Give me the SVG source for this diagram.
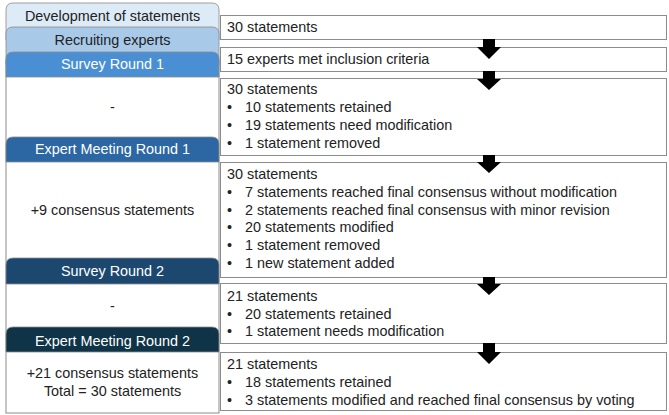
<svg xmlns="http://www.w3.org/2000/svg" width="669" height="415" viewBox="0 0 669 415">
<style>
text{font-family:"Liberation Sans",Arial,sans-serif;font-size:14.4px;fill:#222}
.c{text-anchor:middle}
.w{fill:#ffffff}
.box{fill:#ffffff;stroke:#8c8c8c;stroke-width:1}
.tab{stroke:#8c8c8c;stroke-width:0.8}
.arrow{fill:#000000}
</style>
<g id="left-frame">
<rect x="6" y="60" width="213" height="353" class="box"/>
</g>
<g id="tab-development">
<path class="tab" fill="#ddebf7" d="M6 40 V10 Q6 3 13 3 H212 Q219 3 219 10 V40 Z"/>
<text class="c" x="112.5" y="21">Development of statements</text>
</g>
<g id="tab-recruiting">
<path class="tab" fill="#a8c9e8" d="M6 65 V34 Q6 27 13 27 H212 Q219 27 219 34 V65 Z"/>
<text class="c" x="112.5" y="45">Recruiting experts</text>
</g>
<g id="tab-survey1">
<path class="tab" fill="#4a8fd4" d="M6 77 V59 Q6 52 13 52 H212 Q219 52 219 59 V77 Z"/>
<text class="c w" x="112.5" y="69">Survey Round 1</text>
</g>
<g id="left-survey1">
<text class="c" x="112.5" y="112">-</text>
</g>
<g id="tab-meeting1">
<path class="tab" fill="#2c67a3" d="M6 162 V144 Q6 137 13 137 H212 Q219 137 219 144 V162 Z"/>
<text class="c w" x="112.5" y="154">Expert Meeting Round 1</text>
</g>
<g id="left-meeting1">
<text class="c" x="112.5" y="215">+9 consensus statements</text>
</g>
<g id="tab-survey2">
<path class="tab" fill="#1c4870" d="M6 284 V265 Q6 258 13 258 H212 Q219 258 219 265 V284 Z"/>
<text class="c w" x="112.5" y="276">Survey Round 2</text>
</g>
<g id="left-survey2">
<text class="c" x="112.5" y="311">-</text>
</g>
<g id="tab-meeting2">
<path class="tab" fill="#0f3448" d="M6 352 V334 Q6 327 13 327 H212 Q219 327 219 334 V352 Z"/>
<text class="c w" x="112.5" y="346">Expert Meeting Round 2</text>
</g>
<g id="left-meeting2">
<text class="c" x="112.5" y="378">+21 consensus statements</text>
<text class="c" x="112.5" y="396">Total = 30 statements</text>
</g>

<g id="box1">
<rect class="box" x="220.5" y="15.5" width="446" height="24"/>
<text x="227" y="32">30 statements</text>
</g>
<g id="box2">
<rect class="box" x="220.5" y="47.5" width="446" height="24"/>
<text x="227" y="64">15 experts met inclusion criteria</text>
</g>
<g id="box3">
<rect class="box" x="220.5" y="78.5" width="446" height="77"/>
<text x="227" y="94">30 statements</text>
<text x="227" y="112">•</text><text x="245" y="112">10 statements retained</text>
<text x="227" y="130">•</text><text x="245" y="130">19 statements need modification</text>
<text x="227" y="148">•</text><text x="245" y="148">1 statement removed</text>
</g>
<g id="box4">
<rect class="box" x="220.5" y="162.5" width="446" height="115"/>
<text x="227" y="179">30 statements</text>
<text x="227" y="197">•</text><text x="245" y="197">7 statements reached final consensus without modification</text>
<text x="227" y="215">•</text><text x="245" y="215">2 statements reached final consensus with minor revision</text>
<text x="227" y="232">•</text><text x="245" y="232">20 statements modified</text>
<text x="227" y="250">•</text><text x="245" y="250">1 statement removed</text>
<text x="227" y="268">•</text><text x="245" y="268">1 new statement added</text>
</g>
<g id="box5">
<rect class="box" x="220.5" y="283.5" width="446" height="60"/>
<text x="227" y="301">21 statements</text>
<text x="227" y="319">•</text><text x="245" y="319">20 statements retained</text>
<text x="227" y="336">•</text><text x="245" y="336">1 statement needs modification</text>
</g>
<g id="box6">
<rect class="box" x="220.5" y="352.5" width="446" height="58"/>
<text x="227" y="369">21 statements</text>
<text x="227" y="387">•</text><text x="245" y="387">18 statements retained</text>
<text x="227" y="405">•</text><text x="245" y="405">3 statements modified and reached final consensus by voting</text>
</g>

<g id="connectors">
<path class="arrow" d="M483 39 H495 V47 H501 L489 59 L477 47 H483 Z"/>
<path class="arrow" d="M483 71 H495 V79 H501 L489 90 L477 79 H483 Z"/>
<path class="arrow" d="M483 155 H495 V162 H501 L489 173 L477 162 H483 Z"/>
<path class="arrow" d="M483 277 H495 V284 H501 L489 295 L477 284 H483 Z"/>
<path class="arrow" d="M483 343 H495 V352 H501 L489 364 L477 352 H483 Z"/>
</g>
</svg>
